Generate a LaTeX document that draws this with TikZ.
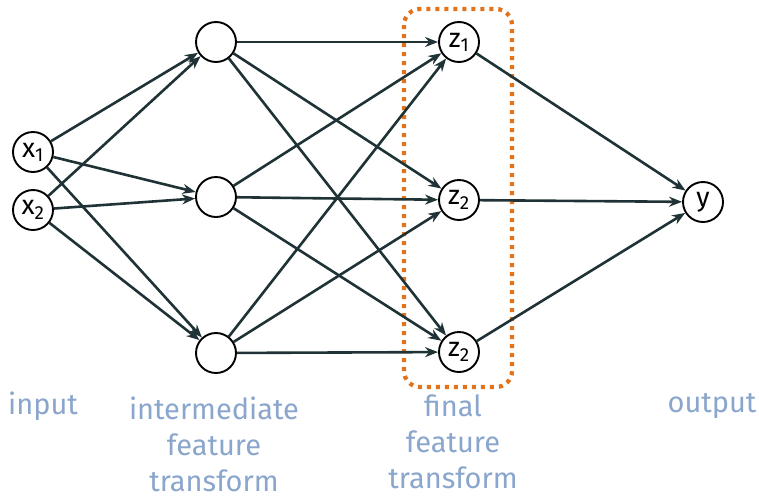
\documentclass[tikz,border=0pt]{standalone}
\usepackage{fontspec}
\setmainfont{Fira Sans}
\usetikzlibrary{arrows.meta}
\definecolor{edgec}{HTML}{1F3336}
\definecolor{boxc}{HTML}{E3731B}
\definecolor{labc}{HTML}{8AA6CC}
\begin{document}
\begin{tikzpicture}[x=1pt,y=-1pt,
  neuron/.style={circle,draw=black,line width=1.9pt,minimum size=40pt,inner sep=0pt,font=\fontsize{27}{27}\selectfont,fill=white},
  conn/.style={draw=edgec,line width=2.6pt,-{Stealth[length=13pt,width=10pt]}},
  lab/.style={text=labc,font=\fontsize{29}{36}\selectfont,align=center,inner sep=0pt}]
\path[use as bounding box,fill=white] (0,0) rectangle (759,496);
\draw[boxc,line width=4.2pt,dash pattern=on 4pt off 5pt,rounded corners=16pt] (404,9) rectangle (512,387);
\node[neuron] (x1) at (33,152) {x\textsubscript{1}};
\node[neuron] (x2) at (33,210) {x\textsubscript{2}};
\node[neuron] (h1) at (216,42) {};
\node[neuron] (h2) at (216,197) {};
\node[neuron] (h3) at (216,353) {};
\node[neuron] (z1) at (459,42) {z\textsubscript{1}};
\node[neuron] (z2) at (459,200) {z\textsubscript{2}};
\node[neuron] (z3) at (459,352) {z\textsubscript{2}};
\node[neuron] (y) at (703,202) {y};
\foreach \a in {x1,x2}{\foreach \b in {h1,h2,h3}{\draw[conn] (\a) -- (\b);}}
\foreach \a in {h1,h2,h3}{\foreach \b in {z1,z2,z3}{\draw[conn] (\a) -- (\b);}}
\foreach \a in {z1,z2,z3}{\draw[conn] (\a) -- (y);}
\node[lab] (l1) at (43,406) {input};
\node[lab] (l2) at (214,444) {intermediate\\feature\\transform};
\node[lab] (l3) at (453,442) {final\\feature\\transform};
\node[lab] (l4) at (712,406) {output};
\end{tikzpicture}
\end{document}
